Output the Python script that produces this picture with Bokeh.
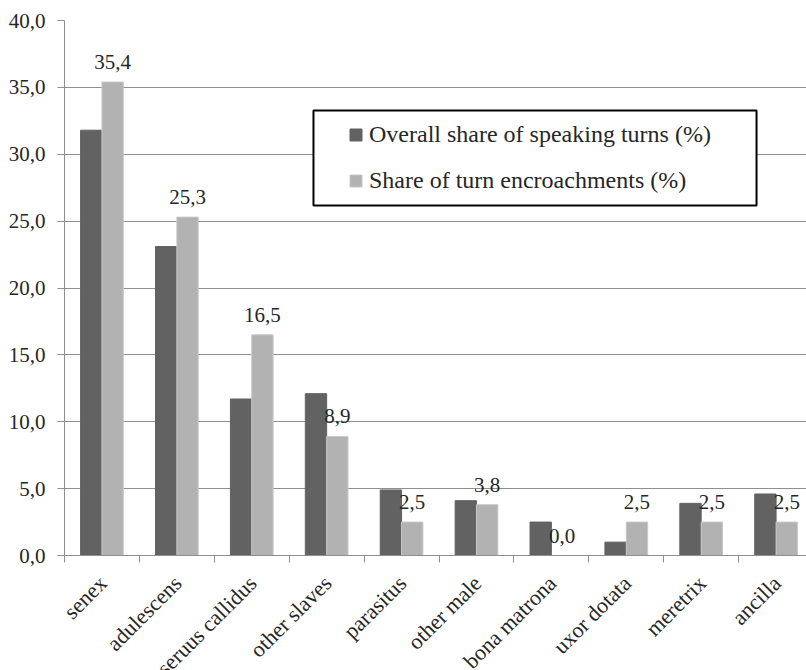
import numpy as np
from bokeh.plotting import figure
from bokeh.layouts import column
from bokeh.models import (Range1d, FixedTicker, CustomJSTickFormatter, Legend,
                          LegendItem, BoxAnnotation, ColumnDataSource)
from bokeh.core.properties import value
from bokeh.embed import file_html
from bokeh.resources import INLINE

categories = ["senex", "adulescens", "seruus callidus", "other slaves", "parasitus",
              "other male", "bona matrona", "uxor dotata", "meretrix", "ancilla"]
overall_share = [31.8, 23.1, 11.7, 12.1, 4.9, 4.1, 2.5, 1.0, 3.9, 4.6]
encroach_share = [35.4, 25.3, 16.5, 8.9, 2.5, 3.8, 0.0, 2.5, 2.5, 2.5]
series_names = ["Overall share of speaking turns (%)", "Share of turn encroachments (%)"]
y_ticks = [0, 5, 10, 15, 20, 25, 30, 35, 40]

FONT = "Liberation Serif"
TEXT_COL = "#262626"
DARK = "#626262"
LIGHT = "#b2b2b2"
GRID = "#8f8f8f"

n = len(categories)
centers = np.arange(n) + 0.5
boundaries = np.arange(n + 1)
bw = 0.285

src = ColumnDataSource(dict(
    xd=centers - bw / 2, xl=centers + bw / 2,
    overall=overall_share, enc=encroach_share,
    lab=[f"{v:.1f}".replace(".", ",") for v in encroach_share],
))
cat_src = ColumnDataSource(dict(xc=centers, ytop=[1.0] * n, cat=categories))

x_range = Range1d(0, 9.906)

p = figure(width=806, height=571, x_range=x_range, y_range=Range1d(0, 40),
           output_backend="svg", toolbar_location=None,
           min_border_left=64, min_border_right=0, min_border_top=20, min_border_bottom=16)
p.outline_line_color = None
p.background_fill_color = "white"
p.border_fill_color = "white"

r1 = p.vbar(x="xd", top="overall", width=bw, source=src, fill_color=DARK, line_color=DARK, line_width=1)
r2 = p.vbar(x="xl", top="enc", width=bw, source=src, fill_color=LIGHT, line_color="#c8c8c8", line_width=1)

p.text(x="xl", y="enc", text="lab", source=src, text_font=value(FONT), text_font_size="21px",
       text_align="center", text_baseline="alphabetic", y_offset=-20, text_color=TEXT_COL)

# y axis
p.yaxis.ticker = FixedTicker(ticks=y_ticks)
p.yaxis.formatter = CustomJSTickFormatter(code="return tick.toFixed(1).replace('.', ',');")
p.yaxis.axis_line_color = GRID
p.yaxis.major_tick_line_color = GRID
p.yaxis.major_tick_out = 7
p.yaxis.major_tick_in = 0
p.yaxis.minor_tick_line_color = None
p.yaxis.major_label_standoff = 12
p.yaxis.major_label_text_font = FONT
p.yaxis.major_label_text_font_size = "21px"
p.yaxis.major_label_text_color = TEXT_COL

# x axis: only the line and the tick marks at the category boundaries
p.xaxis.ticker = FixedTicker(ticks=list(centers), minor_ticks=list(boundaries))
p.xaxis.formatter = CustomJSTickFormatter(code="return '';")
p.xaxis.major_label_text_font_size = "1px"
p.xaxis.major_label_standoff = 0
p.xaxis.axis_line_color = GRID
p.xaxis.major_tick_line_color = None
p.xaxis.major_tick_out = 0
p.xaxis.major_tick_in = 0
p.xaxis.minor_tick_line_color = GRID
p.xaxis.minor_tick_out = 7
p.xaxis.minor_tick_in = 0

p.xgrid.grid_line_color = None
p.ygrid.ticker = FixedTicker(ticks=y_ticks)
p.ygrid.grid_line_color = GRID
p.ygrid.grid_line_width = 1

# legend box
box = BoxAnnotation(left=3.324, right=9.239, top=33.27, bottom=26.17,
                    fill_color="white", fill_alpha=1.0, line_color="black", line_width=2,
                    line_alpha=1.0)
p.add_layout(box)

legend = Legend(items=[LegendItem(label=series_names[0], renderers=[r1]),
                       LegendItem(label=series_names[1], renderers=[r2])],
                location=(284, 361), padding=0, margin=0, spacing=19,
                glyph_width=15, glyph_height=15, label_standoff=6,
                label_text_font=FONT, label_text_font_size="24px", label_text_color=TEXT_COL,
                border_line_alpha=0, background_fill_alpha=0)
p.add_layout(legend)

# strip below the plot carrying the rotated category names (shares the x scale)
p2 = figure(width=806, height=99, x_range=x_range, y_range=Range1d(0, 1),
            output_backend="svg", toolbar_location=None,
            x_axis_location=None, y_axis_location=None,
            min_border_left=64, min_border_right=0, min_border_top=0, min_border_bottom=0)
p2.outline_line_color = None
p2.grid.visible = False
p2.background_fill_color = "white"
p2.border_fill_color = "white"
p2.text(x="xc", y="ytop", text="cat", source=cat_src, angle=np.pi / 4,
        text_align="right", text_baseline="middle", x_offset=1, y_offset=8,
        text_font=value(FONT), text_font_size="22px", text_color=TEXT_COL)

layout = column(p, p2, spacing=0)
open("out.html", "w").write(file_html(layout, INLINE))
